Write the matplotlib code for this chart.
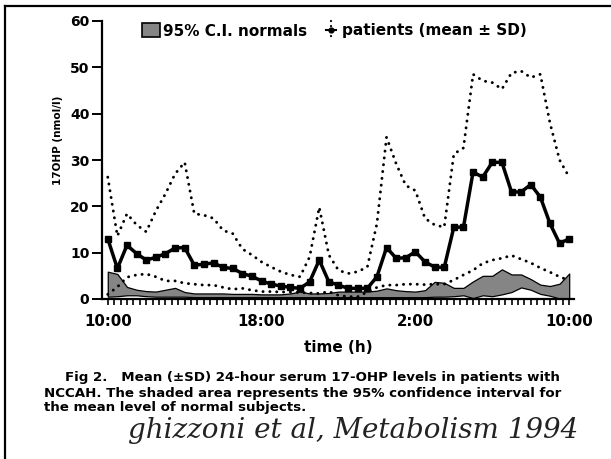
import matplotlib.pyplot as plt
import numpy as np
from matplotlib.lines import Line2D
from matplotlib.patches import Rectangle

# 24-hour profile, one sample every 30 min starting at 10:00
hours = np.arange(49) * 0.5

mean = [13.0, 6.6, 11.6, 9.8, 8.4, 9.0, 9.8, 11.0, 11.1, 7.3, 7.5, 7.8, 6.8, 6.6,
        5.5, 4.9, 3.9, 3.2, 2.8, 2.5, 2.3, 3.7, 8.4, 3.7, 3.0, 2.3, 2.3, 2.3,
        4.8, 11.1, 8.8, 8.9, 10.2, 8.0, 6.9, 6.8, 15.5, 15.5, 27.4, 26.3, 29.5,
        29.5, 23.1, 23.1, 24.7, 22.0, 16.3, 12.0, 13.0]
upper_sd = [26.3, 13.6, 18.4, 16.0, 14.5, 19.0, 22.7, 27.0, 29.5, 18.4, 18.1, 17.4,
            14.8, 14.1, 10.8, 9.5, 8.0, 6.9, 5.9, 5.2, 4.8, 9.1, 19.8, 9.5, 6.2,
            5.5, 5.9, 6.9, 16.3, 34.9, 29.2, 24.5, 23.4, 17.4, 16.0, 15.5, 31.3,
            32.6, 48.5, 47.1, 46.7, 45.3, 48.8, 49.2, 47.8, 48.5, 38.0, 30.0, 26.3]
lower_sd = [1.0, 2.6, 4.7, 5.2, 5.4, 4.8, 3.9, 3.9, 3.4, 3.2, 3.0, 3.0, 2.5, 2.1,
            2.3, 1.9, 1.6, 1.6, 1.5, 1.5, 1.4, 1.3, 1.2, 1.6, 0.8, 0.5, 0.5, 1.5,
            2.5, 3.0, 3.0, 3.2, 3.2, 3.1, 3.2, 3.2, 4.1, 5.2, 6.2, 7.7, 8.4, 8.8,
            9.4, 8.6, 7.8, 6.7, 5.8, 4.8, 4.0]
ci_high = [5.9, 5.4, 2.6, 2.0, 1.7, 1.6, 2.0, 2.4, 1.5, 1.2, 1.2, 1.2, 1.2, 1.1,
           1.1, 1.1, 1.0, 1.0, 1.0, 1.2, 1.6, 1.2, 1.2, 1.3, 1.6, 1.6, 1.6, 1.6,
           1.8, 2.3, 1.9, 1.7, 1.6, 1.9, 3.7, 3.5, 2.4, 2.4, 3.8, 5.0, 5.0, 6.4,
           5.3, 5.3, 4.3, 3.1, 2.8, 3.3, 5.5]
ci_low = [0.5, 0.6, 0.8, 0.8, 0.6, 0.5, 0.5, 0.5, 0.5, 0.4, 0.4, 0.4, 0.4, 0.4,
          0.4, 0.4, 0.4, 0.4, 0.4, 0.4, 0.4, 0.4, 0.4, 0.4, 0.4, 0.4, 0.4, 0.4,
          0.4, 0.4, 0.4, 0.4, 0.4, 0.4, 0.5, 0.5, 0.6, 0.8, 0.2, 0.8, 0.6, 1.0,
          1.5, 2.5, 2.0, 1.1, 0.7, 0.1, 0.0]

tick_pos = [0, 8, 16, 24]
tick_labels = ["10:00", "18:00", "2:00", "10:00"]

W, H = 611, 459
def fx(px):
    return px / W
def fy(py):
    return 1 - py / H

fig = plt.figure(figsize=(W / 100, H / 100), dpi=100)
ax = fig.add_axes([fx(102), fy(299), fx(574) - fx(102), fy(21) - fy(299)])

dots = dict(color="black", lw=2.1, linestyle=(0, (0.05, 2.3)), dash_capstyle="round")
ax.fill_between(hours, ci_low, ci_high, facecolor="#858585", edgecolor="black", lw=0.9)
ax.plot(hours, upper_sd, **dots)
ax.plot(hours, lower_sd, **dots)
ax.plot(hours, mean, color="black", lw=2.5, marker="s", ms=3.8)

ax.set_xlim(-0.3, 24.25)
ax.set_ylim(0, 60)
for s in ["top", "right"]:
    ax.spines[s].set_visible(False)
for s in ["left", "bottom"]:
    ax.spines[s].set_linewidth(1.6)

ax.set_xticks(tick_pos)
ax.set_xticklabels(tick_labels, fontsize=10.8, fontweight="bold")
ax.set_xticks(np.arange(0, 24.01, 1 / 3), minor=True)
ax.tick_params(axis="x", which="both", direction="out", length=4, width=1.2, pad=7)
ax.set_yticks(np.arange(0, 61, 10))
ax.set_yticklabels([str(v) for v in range(0, 61, 10)], fontsize=10, fontweight="bold")
ax.tick_params(axis="y", direction="out", length=7, width=1.4, pad=2)

ax.set_xlabel("time (h)", fontsize=11, fontweight="bold", labelpad=8)
ax.set_ylabel("17OHP (nmol/l)", fontsize=7.5, fontweight="bold")
ax.yaxis.set_label_coords(-0.083, 0.57)

# legend drawn by hand at the top
fig.patches.append(Rectangle((fx(142), fy(37)), fx(160) - fx(142), fy(23) - fy(37),
                             transform=fig.transFigure, facecolor="#858585",
                             edgecolor="black", lw=1.2))
fig.text(fx(163), fy(31), "95% C.I. normals", fontsize=11, fontweight="bold", va="center")
fig.lines.append(Line2D([fx(331), fx(331)], [fy(21), fy(39)], transform=fig.transFigure,
                        color="black", lw=1.6, linestyle=(0, (0.05, 2.2)),
                        dash_capstyle="round"))
fig.lines.append(Line2D([fx(326), fx(336)], [fy(30), fy(30)], transform=fig.transFigure,
                        color="black", lw=1.5))
fig.lines.append(Line2D([fx(331)], [fy(30)], transform=fig.transFigure,
                        color="black", marker="o", ms=3.5))
fig.text(fx(342), fy(31), "patients (mean ± SD)", fontsize=11, fontweight="bold", va="center")

# caption
cap = dict(fontsize=9.6, fontweight="bold", va="center")
fig.text(fx(65), fy(378), "Fig 2.   Mean (±SD) 24-hour serum 17-OHP levels in patients with", **cap)
fig.text(fx(44), fy(393), "NCCAH. The shaded area represents the 95% confidence interval for", **cap)
fig.text(fx(44), fy(408), "the mean level of normal subjects.", **cap)
fig.text(fx(128), fy(431), "ghizzoni et al, Metabolism 1994", fontsize=20,
         family="DejaVu Serif", style="italic", color="#222222", va="center")

# scan frame
fig.lines.append(Line2D([fx(5), fx(5)], [fy(6), 0], transform=fig.transFigure, color="black", lw=1.6))
fig.lines.append(Line2D([fx(5), 1], [fy(6), fy(6)], transform=fig.transFigure, color="black", lw=1.6))

fig.savefig("out.png", dpi=100)
